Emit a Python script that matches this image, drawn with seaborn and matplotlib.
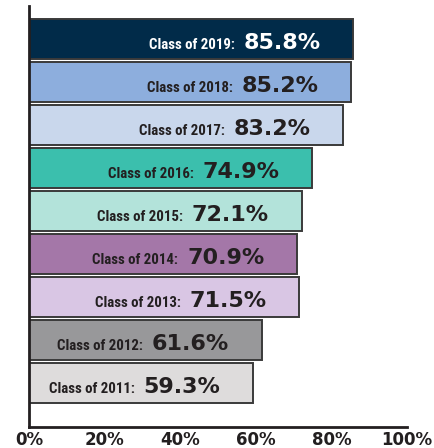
import matplotlib
matplotlib.use("Agg")
import matplotlib.pyplot as plt
import matplotlib.transforms as mtransforms
import seaborn as sns
import pandas as pd

# Data (top to bottom)
classes = ["Class of 2019:", "Class of 2018:", "Class of 2017:", "Class of 2016:",
           "Class of 2015:", "Class of 2014:", "Class of 2013:", "Class of 2012:",
           "Class of 2011:"]
rates = [85.8, 85.2, 83.2, 74.9, 72.1, 70.9, 71.5, 61.6, 59.3]
colors = ["#012b49", "#8daedd", "#c9d7ec", "#3bbfad", "#b3e3da",
          "#a477a8", "#d9c6e4", "#98989a", "#dedcdc"]
text_colors = ["white"] + ["#231f20"] * 8
ticks = [0, 20, 40, 60, 80, 100]
tick_labels = ["0%", "20%", "40%", "60%", "80%", "100%"]

df = pd.DataFrame({"cls": classes, "rate": rates})

sns.set_style("white")
fig = plt.figure(figsize=(4.35, 4.48), dpi=100)
ax = fig.add_axes([29 / 435, 1 - 427 / 448, 378 / 435, 421 / 448])

sns.barplot(data=df, x="rate", y="cls", hue="cls", palette=colors, legend=False,
            orient="h", width=0.93, edgecolor="#3a3a3a", linewidth=1.4,
            saturation=1, ax=ax)

ax.set_xlim(0, 100)
ax.set_ylim(9.03, -0.77)
ax.set_xlabel("")
ax.set_ylabel("")
ax.set_yticks([])
ax.set_xticks(ticks)
ax.set_xticklabels(tick_labels, fontsize=12, fontweight="bold", color="#231f20",
                   family="DejaVu Sans")
ax.tick_params(axis="x", direction="in", length=7, width=2, color="#231f20", pad=3)
for s in ["top", "right"]:
    ax.spines[s].set_visible(False)
for s in ["left", "bottom"]:
    ax.spines[s].set_linewidth(2)
    ax.spines[s].set_color("#231f20")

# value labels, right aligned a fixed gap inside the bar end
shift = mtransforms.ScaledTranslation(-23.5 / 72, 0, fig.dpi_scale_trans)
value_texts = []
for i, (v, tc) in enumerate(zip(rates, text_colors)):
    t = ax.text(v, i + 0.23, f"{v}%", transform=ax.transData + shift,
                ha="right", va="baseline", fontsize=16, fontweight="bold",
                color=tc, family="DejaVu Sans")
    value_texts.append(t)

# class labels just left of the value text
fig.canvas.draw()
inv = ax.transData.inverted()
for i, (t, lab, tc) in enumerate(zip(value_texts, classes, text_colors)):
    bb = t.get_window_extent()
    x_data = inv.transform((bb.x0 - 9, 0))[0]
    ax.text(x_data, i + 0.23, lab, ha="right", va="baseline", fontsize=10.7,
            fontweight="bold", color=tc,
            family=["Roboto Condensed", "Liberation Sans Narrow", "Roboto"])

fig.savefig("out.png", dpi=100)
